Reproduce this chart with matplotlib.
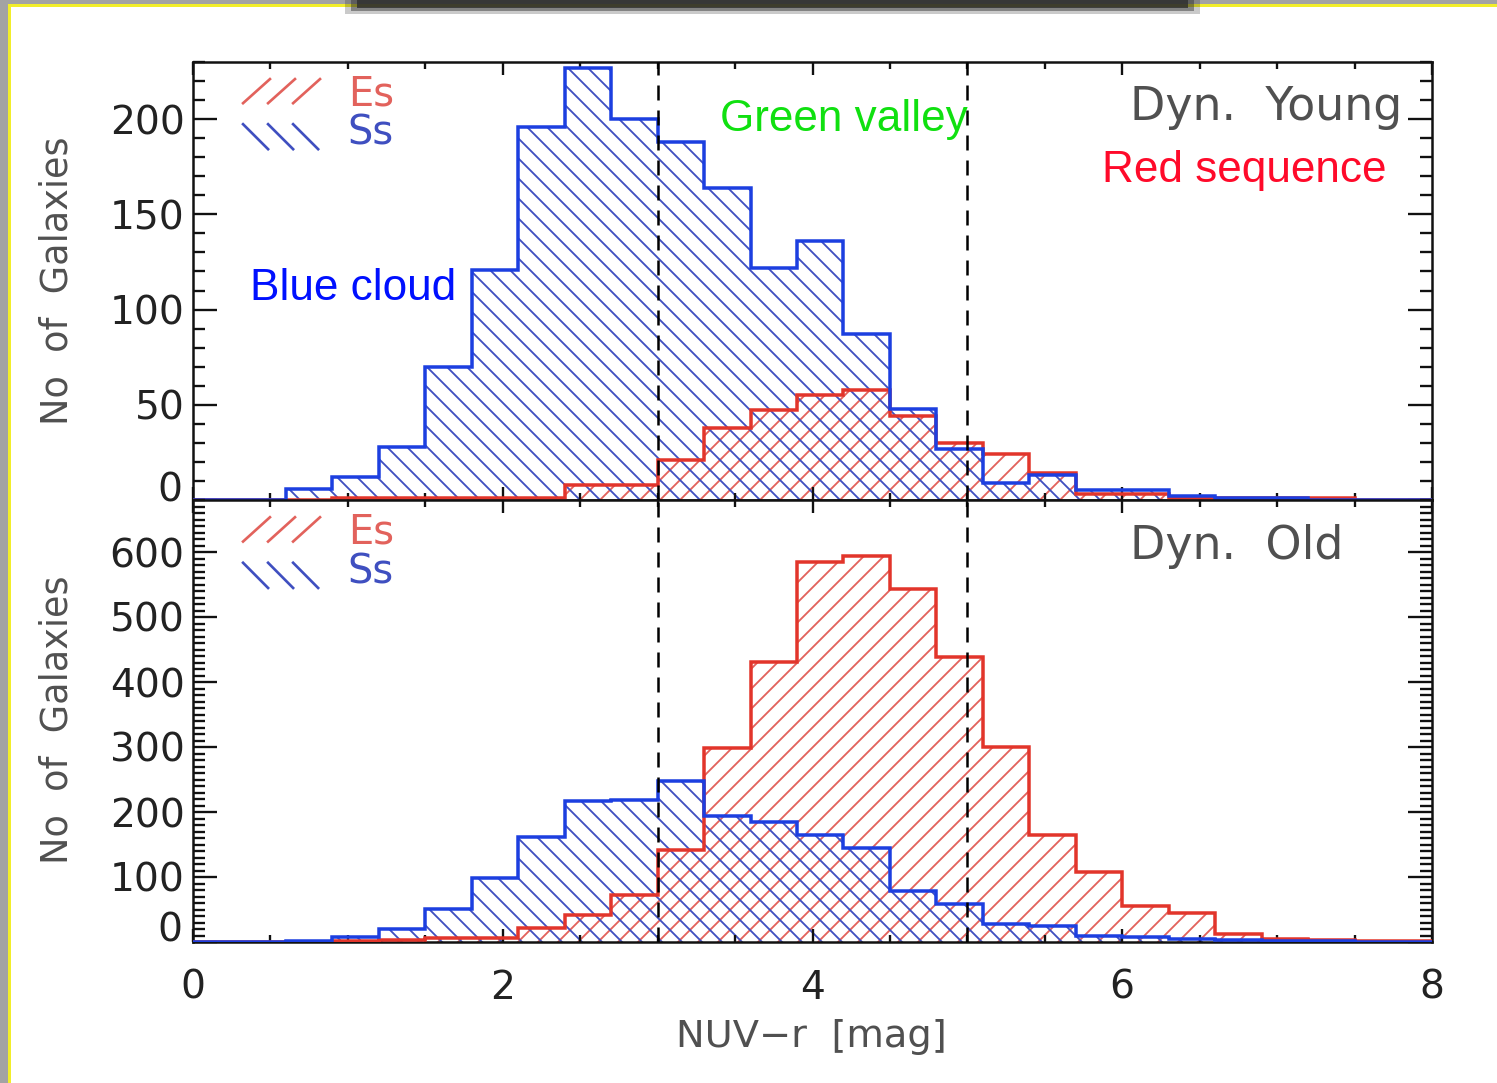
import numpy as np
import matplotlib
matplotlib.use("Agg")
import matplotlib.pyplot as plt
from matplotlib.patches import Rectangle
from matplotlib.ticker import MultipleLocator, FuncFormatter
from matplotlib.lines import Line2D

# ---------------- data ----------------
bin_edges = np.round(np.arange(28) * 0.3, 2)  # 0.0 ... 8.1, width 0.3 mag

# Dynamically young
young_Ss = [0, 0, 6, 12, 28, 70, 121, 196, 227, 200, 188, 164, 122, 136, 87, 48,
            27, 9, 13, 5, 5, 2, 1, 1, 0, 0, 0]
young_Es = [0, 0, 0, 1, 1, 1, 1, 1, 8, 8, 21, 38, 47, 55, 58, 44,
            30, 24, 14, 3, 3, 1, 1, 1, 1, 0, 0]

# Dynamically old
old_Ss = [0, 0, 2, 8, 20, 51, 98, 161, 217, 218, 248, 194, 185, 165, 145, 78,
          59, 28, 25, 9, 8, 5, 3, 1, 1, 0, 0]
old_Es = [0, 0, 0, 1, 3, 6, 6, 22, 41, 72, 142, 298, 431, 585, 594, 543,
          438, 300, 164, 108, 56, 44, 13, 5, 3, 2, 1]

xticks = [0, 2, 4, 6, 8]
yticks_top = [0, 50, 100, 150, 200]
yticks_bot = [0, 100, 200, 300, 400, 500, 600]
boundaries = [3, 5]
panel_names = ["Dyn.  Young", "Dyn.  Old"]

# ---------------- styling ----------------
W, H = 1497, 1083
DPI = 120
plt.rcParams['font.family'] = ['DejaVu Sans']
plt.rcParams['hatch.linewidth'] = 1.1

BLUE_LINE = '#1c3fe0'
RED_LINE = '#e2352b'
BLUE_HATCH = '#3f4fc0'
RED_HATCH = '#e2625c'
GRAY_TXT = '#505050'

fig = plt.figure(figsize=(W / DPI, H / DPI), dpi=DPI)
fig.patch.set_facecolor('white')

# slide frame decoration
fig.patches.append(Rectangle((0, 0), 8 / W, 1, transform=fig.transFigure,
                             facecolor='#a3a3a3', edgecolor='none', zorder=-5))
fig.patches.append(Rectangle((8 / W, 0), 3 / W, 1 - 4 / H, transform=fig.transFigure,
                             facecolor='#f2ee2a', edgecolor='none', zorder=-4))
fig.patches.append(Rectangle((0, 1 - 4 / H), 1, 4 / H, transform=fig.transFigure,
                             facecolor='#a3a3a3', edgecolor='none', zorder=-5))
fig.patches.append(Rectangle((8 / W, 1 - 7 / H), 1, 3 / H, transform=fig.transFigure,
                             facecolor='#f2ee2a', edgecolor='none', zorder=-4))
for k, a in enumerate([0.25, 0.45, 0.8]):
    fig.patches.append(Rectangle(((345 + 6 * k) / W, 1 - (14 - 3 * k) / H),
                                 (855 - 12 * k) / W, (14 - 3 * k) / H,
                                 transform=fig.transFigure, facecolor='#2e2e2e',
                                 alpha=a, edgecolor='none', zorder=-3))

ax1 = fig.add_axes([193 / W, 1 - 500 / H, 1239 / W, 438 / H])
ax2 = fig.add_axes([193 / W, 1 - 942 / H, 1239 / W, 442 / H])


def draw_panel(ax, es, ss, ylim, yticks, zero_shift):
    ax.stairs(es, bin_edges, baseline=0, fill=True, facecolor='none',
              edgecolor=RED_HATCH, hatch='//', linewidth=0, zorder=1)
    ax.stairs(ss, bin_edges, baseline=0, fill=True, facecolor='none',
              edgecolor=BLUE_HATCH, hatch='\\\\', linewidth=0, zorder=1)
    ax.stairs(es, bin_edges, baseline=0, fill=False, edgecolor=RED_LINE,
              linewidth=2.1, zorder=3)
    ax.stairs(ss, bin_edges, baseline=0, fill=False, edgecolor=BLUE_LINE,
              linewidth=2.1, zorder=4)
    for b in boundaries:
        ax.axvline(b, color='black', lw=1.5, ls=(0, (6, 4)), zorder=5)
    ax.set_xlim(0, 8)
    ax.set_ylim(*ylim)
    ax.set_xticks(xticks)
    ax.xaxis.set_minor_locator(MultipleLocator(0.5))
    ax.set_yticks(yticks)
    ax.yaxis.set_minor_locator(MultipleLocator(10))
    ax.yaxis.set_major_formatter(FuncFormatter(lambda v, p: '' if v == 0 else f'{int(v)}'))
    ax.tick_params(axis='both', which='both', direction='in', top=True, right=True,
                   width=1.4, colors='#111111', labelcolor='#222222')
    ax.tick_params(axis='y', which='major', length=14.5, labelsize=23.5, pad=5)
    ax.tick_params(axis='y', which='minor', length=7)
    ax.tick_params(axis='x', which='major', length=8, labelsize=23.5, pad=16)
    ax.tick_params(axis='x', which='minor', length=4)
    for s in ax.spines.values():
        s.set_linewidth(1.5)
        s.set_color('#111111')
    ax.text(-0.0085, zero_shift, '0', transform=ax.get_yaxis_transform(),
            ha='right', va='center', fontsize=23.5, color='#222222')
    # legend-like hatch glyphs
    for k in range(3):
        x0 = 0.0404 + k * 0.0202
        ax.add_line(Line2D([x0, x0 + 0.0217], [0.906, 0.961], transform=ax.transAxes,
                           color=RED_HATCH, lw=1.6))
        ax.add_line(Line2D([x0, x0 + 0.0202], [0.858, 0.801], transform=ax.transAxes,
                           color=BLUE_HATCH, lw=1.6))
    ax.text(0.125, 0.926, 'Es', transform=ax.transAxes, ha='left', va='center',
            fontsize=24, color=RED_HATCH)
    ax.text(0.125, 0.836, 'Ss', transform=ax.transAxes, ha='left', va='center',
            fontsize=24, color=BLUE_HATCH)


draw_panel(ax1, young_Es, young_Ss, (0, 230), yticks_top, 5)
draw_panel(ax2, old_Es, old_Ss, (0, 680), yticks_bot, 18)
ax1.tick_params(axis='x', labelbottom=False)

ax1.text(0.756, 0.897, panel_names[0], transform=ax1.transAxes, ha='left', va='center',
         fontsize=27.5, color=GRAY_TXT)
ax2.text(0.756, 0.894, panel_names[1], transform=ax2.transAxes, ha='left', va='center',
         fontsize=27.5, color=GRAY_TXT)

# region annotations
ann_font = ['Liberation Sans', 'DejaVu Sans']
ax1.text(0.37, 111, 'Blue cloud', ha='left', va='center', fontsize=26.5,
         color='#0010ff', family=ann_font, zorder=6)
ax1.text(3.40, 200, 'Green valley', ha='left', va='center', fontsize=26.5,
         color='#10e010', family=ann_font, zorder=6)
ax1.text(5.87, 173, 'Red sequence', ha='left', va='center', fontsize=26.5,
         color='#ff0a2a', family=ann_font, zorder=6)

# axis labels
fig.text(57 / W, 1 - 281 / H, 'No  of  Galaxies', rotation=90, ha='center', va='center',
         fontsize=22, color=GRAY_TXT)
fig.text(57 / W, 1 - 720 / H, 'No  of  Galaxies', rotation=90, ha='center', va='center',
         fontsize=22, color=GRAY_TXT)
fig.text(811 / W, 1 - 1037 / H, 'NUV\u2212r  [mag]', ha='center', va='center',
         fontsize=23, color=GRAY_TXT)

fig.savefig('out.png', dpi=DPI, facecolor='white')
